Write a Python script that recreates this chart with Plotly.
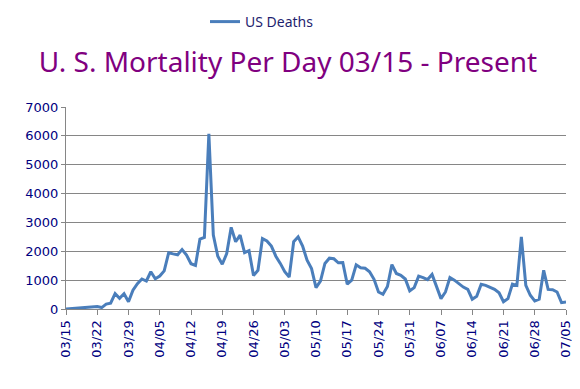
import pandas as pd
import plotly.graph_objects as go

start_date = "2020-03-15"
end_date = "2020-07-05"
dates = pd.date_range(start_date, end_date, freq="D")

us_deaths = [
    0, 10, 15, 20, 30, 40, 60, 85, 50, 170,
    200, 530, 370, 530, 250, 650, 880, 1040, 970, 1290,
    1050, 1140, 1320, 1950, 1910, 1880, 2060, 1870, 1570, 1510,
    2420, 2480, 6070, 2560, 1830, 1550, 1920, 2830, 2330, 2560,
    1950, 2020, 1160, 1340, 2440, 2360, 2180, 1830, 1580, 1290,
    1110, 2330, 2500, 2180, 1690, 1400, 740, 970, 1580, 1760,
    1740, 1600, 1610, 860, 1000, 1530, 1430, 1410, 1290, 1030,
    590, 510, 780, 1540, 1230, 1170, 1040, 630, 740, 1140,
    1090, 1020, 1200, 760, 360, 590, 1090, 1000, 880, 760,
    680, 340, 440, 860, 820, 740, 680, 560, 250, 360,
    860, 820, 2500, 820, 475, 280, 340, 1340, 680, 670,
    590, 220, 240,
]

y_ticks = [0, 1000, 2000, 3000, 4000, 5000, 6000, 7000]
title_text = "U. S. Mortality Per Day 03/15 - Present"
series_name = "US Deaths"

# the page body adds an 8px offset; positions below compensate for it
fig = go.Figure()
fig.add_trace(go.Scatter(
    x=dates, y=us_deaths, mode="lines", name=series_name,
    line=dict(color="#4a7ebb", width=3),
))

fig.update_layout(
    width=580, height=389,
    margin=dict(l=58, r=22, t=99, b=88, autoexpand=False),
    paper_bgcolor="white", plot_bgcolor="white",
    title=dict(text=title_text, xref="container", x=280 / 580, xanchor="center",
               yref="container", y=1 - 54 / 389, yanchor="middle",
               font=dict(family="Noto Sans", size=28, color="#800080")),
    showlegend=True,
    legend=dict(orientation="h", xref="container", x=254 / 580, xanchor="center",
                yref="container", y=1 - 14 / 389, yanchor="middle",
                font=dict(family="Noto Sans", size=14, color="#1f1f6f"),
                bgcolor="rgba(0,0,0,0)"),
)

fig.update_xaxes(
    range=[start_date, end_date], automargin=False,
    tickmode="linear", tick0=start_date, dtick=7 * 24 * 3600 * 1000,
    tickformat="%m/%d", tickangle=-90,
    ticks="outside", ticklen=5, tickcolor="#868686",
    showline=True, linecolor="#868686", linewidth=1,
    showgrid=False, zeroline=False,
    tickfont=dict(family="DejaVu Sans", size=13, color="#000080"),
)
fig.update_yaxes(
    range=[0, 7000], tickvals=y_ticks, automargin=False,
    showgrid=True, gridcolor="#868686", gridwidth=1,
    showline=True, linecolor="#868686", linewidth=1,
    ticks="outside", ticklen=4, tickcolor="#868686",
    zeroline=False,
    tickfont=dict(family="DejaVu Sans", size=13, color="#000080"),
)

fig.write_html("out.html")
